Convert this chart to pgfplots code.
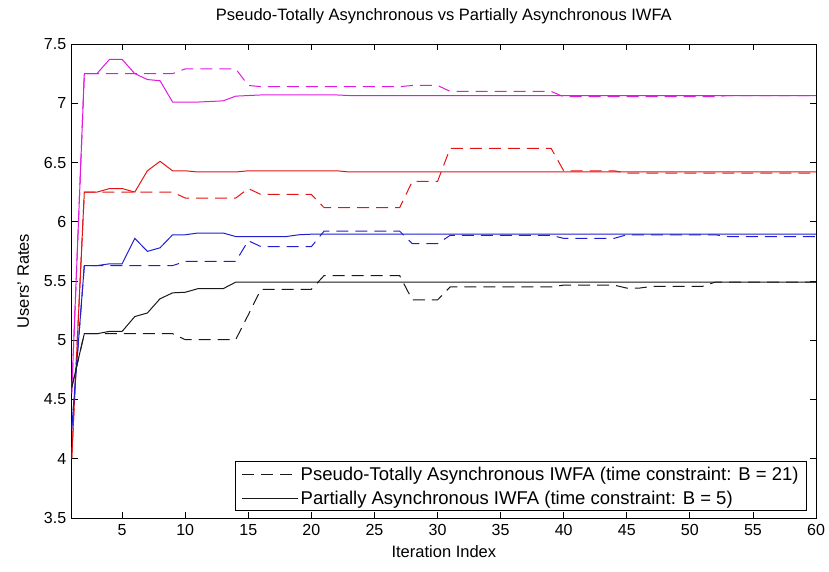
\documentclass[border=0pt]{standalone}
\usepackage{fontspec}
\setmainfont{Liberation Sans}
\usepackage{pgfplots}
\pgfplotsset{compat=1.18}
\definecolor{cmag}{rgb}{0.88,0.1,0.88}
\definecolor{cred}{rgb}{0.9,0.08,0.08}
\definecolor{cblue}{rgb}{0.12,0.12,0.82}
\definecolor{cblk}{rgb}{0.1,0.1,0.1}
\tikzset{dsh/.style={dash pattern=on 12pt off 7pt}}
\begin{document}
\begin{tikzpicture}
\useasboundingbox (-71.7pt,-54pt) rectangle (757.3pt,518pt);
\begin{axis}[
  scale only axis,
  width=744.3pt, height=474pt,
  xmin=1, xmax=60, ymin=3.5, ymax=7.5,
  xtick={5,10,...,60},
  ytick={3.5,4,...,7.5},
  major tick length=6pt,
  tick style={line width=0.8pt, black},
  axis line style={line width=0.9pt},
  /pgf/number format/assume math mode=true,
  ticklabel style={font=\fontsize{16}{19}\selectfont},
  xticklabel style={yshift=-3pt},
  yticklabel style={xshift=-2pt},
  title={Pseudo-Totally Asynchronous vs Partially Asynchronous IWFA},
  title style={font=\fontsize{16.5}{20}\selectfont, at={(axis description cs:0.5,1)}, anchor=center, yshift=22pt},
  xlabel={Iteration Index},
  xlabel style={font=\fontsize{16.5}{20}\selectfont, at={(axis description cs:0.5,0)}, anchor=center, yshift=-34pt},
  ylabel={Users' Rates},
  ylabel style={font=\fontsize{16.5}{20}\selectfont, at={(axis description cs:-0.065,0.5)}, anchor=center},
  legend style={at={(axis description cs:1,0)}, anchor=south east, xshift=-9pt, yshift=7pt,
    font=\fontsize{18.5}{22}\selectfont, draw=black, line width=0.9pt, row sep=5pt,
    inner xsep=6pt, inner ysep=3pt},
  legend cell align=left,
  legend image code/.code={\draw[#1] (0pt,0pt) -- (56pt,0pt);},
  every axis plot/.append style={line width=1pt},
]
\addlegendimage{cblk, dsh}
\addlegendentry{Pseudo-Totally Asynchronous IWFA (time constraint: B = 21)}
\addlegendimage{cblk}
\addlegendentry{Partially Asynchronous IWFA (time constraint: B = 5)}

% magenta
\addplot[cmag, dsh, forget plot] coordinates {(1,4.55)(2,7.25)(9,7.25)(10,7.29)(14,7.29)(15,7.15)(16,7.14)(27,7.14)(28,7.15)(30,7.15)(31,7.10)(39,7.10)(40,7.055)(52,7.055)(53,7.065)(60,7.065)};
\addplot[cmag, forget plot] coordinates {(1,4.55)(2,7.25)(3,7.25)(4,7.37)(5,7.37)(6,7.25)(7,7.20)(8,7.19)(9,7.01)(10,7.01)(11,7.01)(12,7.015)(13,7.02)(14,7.06)(15,7.065)(16,7.07)(22,7.07)(23,7.065)(60,7.065)};
% red
\addplot[cred, dsh, forget plot] coordinates {(1,4.0)(2,6.25)(9,6.25)(10,6.20)(14,6.20)(15,6.28)(16,6.23)(20,6.23)(21,6.12)(27,6.12)(28,6.34)(30,6.34)(31,6.62)(39,6.62)(40,6.43)(44,6.43)(45,6.41)(60,6.41)};
\addplot[cred, forget plot] coordinates {(1,4.0)(2,6.25)(3,6.25)(4,6.28)(5,6.28)(6,6.25)(7,6.43)(8,6.51)(9,6.43)(10,6.43)(11,6.42)(14,6.42)(15,6.43)(22,6.43)(23,6.42)(60,6.42)};
% blue
\addplot[cblue, dsh, forget plot] coordinates {(1,4.25)(2,5.63)(9,5.63)(10,5.665)(14,5.665)(15,5.84)(16,5.79)(20,5.79)(21,5.92)(27,5.92)(28,5.815)(30,5.815)(31,5.885)(39,5.885)(40,5.86)(44,5.86)(45,5.89)(52,5.89)(53,5.875)(60,5.875)};
\addplot[cblue, forget plot] coordinates {(1,4.25)(2,5.63)(3,5.63)(4,5.645)(5,5.645)(6,5.86)(7,5.75)(8,5.78)(9,5.89)(10,5.89)(11,5.905)(13,5.905)(14,5.875)(18,5.875)(19,5.89)(20,5.895)(60,5.895)};
% black
\addplot[cblk, dsh, forget plot] coordinates {(1,4.6)(2,5.055)(9,5.055)(10,5.005)(14,5.005)(15,5.215)(16,5.43)(20,5.43)(21,5.545)(27,5.545)(28,5.34)(30,5.34)(31,5.45)(39,5.45)(40,5.465)(44,5.465)(45,5.44)(46,5.44)(47,5.455)(51,5.455)(52,5.49)(60,5.49)};
\addplot[cblk, forget plot] coordinates {(1,4.6)(2,5.055)(3,5.055)(4,5.075)(5,5.075)(6,5.20)(7,5.23)(8,5.35)(9,5.40)(10,5.405)(11,5.435)(13,5.435)(14,5.49)(60,5.49)};
\end{axis}
\end{tikzpicture}
\end{document}
